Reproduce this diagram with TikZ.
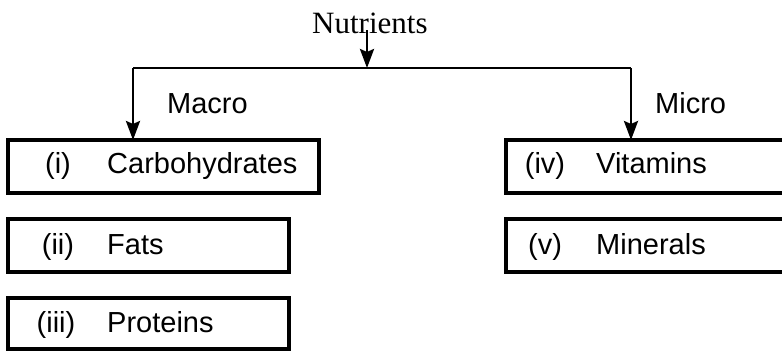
\documentclass[tikz,border=0pt]{standalone}
\usepackage{fontspec}
\setmainfont{Liberation Sans}
\newfontfamily\serifface{Liberation Serif}
\usetikzlibrary{arrows.meta}
\begin{document}
\begin{tikzpicture}[x=1pt,y=-1pt,
  itembox/.style={draw, line width=3.2pt, minimum height=53pt, anchor=north west, inner sep=0pt, outer sep=0pt},
  itemtext/.style={font=\fontsize{29}{31}\selectfont, inner sep=0pt},
  headtext/.style={font=\serifface\fontsize{31}{33}\selectfont, inner sep=0pt},
  link/.style={line width=2.8pt},
  arrowlink/.style={link, -{Stealth[width=14pt,length=19pt,inset=3pt]}}]
\clip (0,0) rectangle (782,351);
\fill[white] (0,0) rectangle (782,351);

% heading
\node[headtext, anchor=base west] (nut) at (312,33) {Nutrients};
\coordinate (nstart) at (367,30);
\coordinate (junc) at (367,68);
\coordinate (lcorner) at (133,68);
\coordinate (rcorner) at (631,68);

% boxes
\node[itembox, minimum width=311pt] (b1) at (8,140) {};
\node[itembox, minimum width=281pt] (b2) at (8,219) {};
\node[itembox, minimum width=281pt, minimum height=51pt] (b3) at (8,298) {};
\node[itembox, minimum width=300pt] (b4) at (506,140) {};
\node[itembox, minimum width=300pt] (b5) at (506,219) {};

% box texts
\node[itemtext, anchor=base] (n1) at (58,173) {(i)};
\node[itemtext, anchor=base west] (t1) at (107,173) {Carbohydrates};
\node[itemtext, anchor=base] (n2) at (58,254) {(ii)};
\node[itemtext, anchor=base west] (t2) at (107,254) {Fats};
\node[itemtext, anchor=base] (n3) at (56,332) {(iii)};
\node[itemtext, anchor=base west] (t3) at (107,332) {Proteins};
\node[itemtext, anchor=base] (n4) at (545,173) {(iv)};
\node[itemtext, anchor=base west] (t4) at (596,173) {Vitamins};
\node[itemtext, anchor=base] (n5) at (545,254) {(v)};
\node[itemtext, anchor=base west] (t5) at (596,254) {Minerals};

% branch labels
\node[itemtext, anchor=base west] (macro) at (167,113) {Macro};
\node[itemtext, anchor=base west] (micro) at (655,113) {Micro};

% connectors
\draw[arrowlink] (nstart) -- (junc);
\draw[link] (lcorner) -- (rcorner);
\draw[arrowlink] (lcorner) -- (lcorner |- b1.north);
\draw[arrowlink] (rcorner) -- (rcorner |- b4.north);
\end{tikzpicture}
\end{document}
